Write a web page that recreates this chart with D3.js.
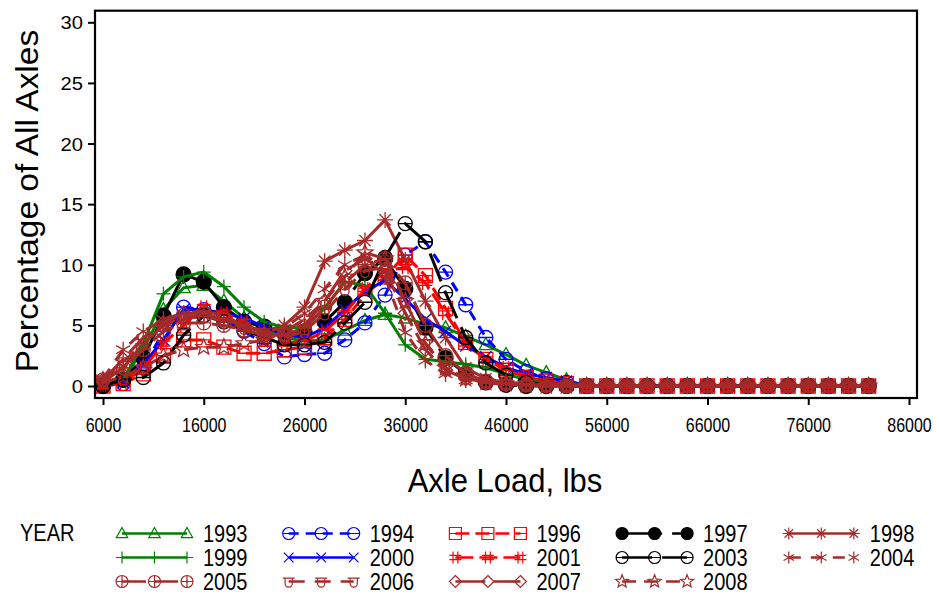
<!DOCTYPE html>
<html><head><meta charset="utf-8">
<script src="https://cdn.jsdelivr.net/npm/d3@7"></script>
<style>
html,body{margin:0;padding:0;background:#fff;}
svg{display:block;}
text{font-family:"Liberation Sans",Arial,Helvetica,sans-serif;fill:#000;}
</style></head>
<body>
<svg id="chart" width="940" height="598"></svg>
<script>
// ---------- DATA ----------
const axleLoads = [6000,8000,10000,12000,14000,16000,18000,20000,22000,24000,26000,28000,30000,32000,34000,36000,38000,40000,42000,44000,46000,48000,50000,52000,54000,56000,58000,60000,62000,64000,66000,68000,70000,72000,74000,76000,78000,80000,82000];
const xTicks = [6000,16000,26000,36000,46000,56000,66000,76000,86000];
const yTicks = [0,5,10,15,20,25,30];

const y1993 = [0.2,0.6,3.0,6.3,8.1,8.3,7.0,5.6,4.6,4.0,3.7,3.8,4.6,5.4,5.9,5.6,5.1,4.8,4.1,3.4,2.6,1.7,1.1,0.5,0,0,0,0,0,0,0,0,0,0,0,0,0,0,0];
const y1994 = [0.0,0.2,1.5,4.5,6.5,6.3,5.5,4.5,3.5,2.4,2.6,2.7,3.8,5.2,7.5,10.8,11.9,9.4,6.7,4.0,2.2,1.2,0.6,0.3,0,0,0,0,0,0,0,0,0,0,0,0,0,0,0];
const y1996 = [0.0,0.2,1.0,2.5,3.8,3.8,3.2,2.7,2.7,3.0,3.2,4.0,5.5,7.5,9.0,10.8,9.1,6.4,3.6,2.2,1.3,0.7,0.4,0.2,0,0,0,0,0,0,0,0,0,0,0,0,0,0,0];
const y1997 = [0.0,0.5,2.3,5.8,9.2,8.6,6.5,5.3,4.9,4.4,4.5,5.3,6.9,9.3,10.5,8.0,4.8,2.3,1.0,0.3,0.1,0.0,0.0,0.0,0,0,0,0,0,0,0,0,0,0,0,0,0,0,0];
const y1998 = [0.3,1.5,3.5,5.0,5.5,5.8,5.5,5.0,4.5,5.0,6.5,10.3,11.2,12.0,13.7,10.4,7.0,4.0,1.5,0.6,0.3,0.2,0.1,0.1,0,0,0,0,0,0,0,0,0,0,0,0,0,0,0];
const y1999 = [0.1,0.5,3.5,7.6,9.0,9.4,8.2,6.5,5.3,4.8,4.8,6.4,8.6,8.3,6.0,3.4,2.2,2.0,1.8,1.5,1.0,0.5,0.2,0.1,0,0,0,0,0,0,0,0,0,0,0,0,0,0,0];
const y2000 = [0.0,0.3,1.8,3.8,6.3,6.3,6.0,5.6,4.9,4.2,4.0,4.8,6.3,7.8,8.7,7.2,5.5,4.5,3.3,2.4,1.5,1.0,0.7,0.4,0,0,0,0,0,0,0,0,0,0,0,0,0,0,0];
const y2001 = [0.0,0.3,1.5,3.5,5.0,6.5,6.0,5.3,4.0,3.5,3.7,4.5,6.0,8.0,9.5,9.8,8.5,6.0,3.5,2.2,1.5,0.8,0.4,0.2,0,0,0,0,0,0,0,0,0,0,0,0,0,0,0];
const y2003 = [0.0,0.5,0.7,1.9,4.2,5.8,5.3,4.6,4.0,3.4,3.4,3.6,5.2,6.9,10.6,13.4,11.9,7.7,4.0,1.9,0.9,0.3,0.1,0.0,0,0,0,0,0,0,0,0,0,0,0,0,0,0,0];
const y2004 = [0.6,3.0,4.5,5.5,6.0,6.0,5.5,5.0,4.5,4.8,6.0,8.0,10.0,10.8,9.0,4.4,2.1,1.0,0.5,0.3,0.2,0.1,0.1,0.1,0,0,0,0,0,0,0,0,0,0,0,0,0,0,0];
const y2005 = [0.5,1.5,3.0,4.5,5.2,5.2,5.0,4.6,4.2,4.2,4.8,6.5,8.5,10.0,10.5,8.5,5.0,2.5,1.0,0.4,0.2,0.1,0.1,0.0,0,0,0,0,0,0,0,0,0,0,0,0,0,0,0];
const y2006 = [0.5,2.0,3.5,5.0,5.8,5.8,5.3,4.8,4.2,4.0,4.5,6.0,8.0,9.5,9.8,7.0,3.5,1.5,0.7,0.3,0.2,0.1,0.0,0.0,0,0,0,0,0,0,0,0,0,0,0,0,0,0,0];
const y2007 = [0.5,2.2,4.0,5.2,6.0,6.2,5.8,5.0,4.3,4.2,5.0,7.0,9.5,10.5,9.5,6.0,3.0,1.3,0.6,0.3,0.1,0.1,0.0,0.0,0,0,0,0,0,0,0,0,0,0,0,0,0,0,0];
const y2008 = [0.3,0.8,1.5,2.5,3.0,3.2,3.2,3.5,3.8,4.5,5.5,7.0,9.0,11.0,10.5,7.0,3.5,1.5,0.6,0.3,0.2,0.1,0.0,0.0,0,0,0,0,0,0,0,0,0,0,0,0,0,0,0];

const years = ["1993","1994","1996","1997","1998","1999","2000","2001","2003","2004","2005","2006","2007","2008"];
const seriesValues = {"1993":y1993,"1994":y1994,"1996":y1996,"1997":y1997,"1998":y1998,"1999":y1999,"2000":y2000,"2001":y2001,"2003":y2003,"2004":y2004,"2005":y2005,"2006":y2006,"2007":y2007,"2008":y2008};
const legendOrder = ["1993","1994","1996","1997","1998","1999","2000","2001","2003","2004","2005","2006","2007","2008"];

// ---------- STYLES ----------
const GREEN="#008000", BLUE="#0000FF", RED="#FF0000", BLACK="#000000", BROWN="#A52A2A";
const styles = {
  "1993":{c:GREEN,m:"triangle",d:null},
  "1999":{c:GREEN,m:"plus",d:null},
  "2005":{c:BROWN,m:"circleplus",d:"24,8"},
  "1994":{c:BLUE,m:"circleline",d:"10,7"},
  "2000":{c:BLUE,m:"x",d:null},
  "2006":{c:BROWN,m:"cup",d:"16,10"},
  "1996":{c:RED,m:"squareline",d:"14,6"},
  "2001":{c:RED,m:"hash",d:"18,6"},
  "2007":{c:BROWN,m:"diamond",d:"30,8"},
  "1997":{c:BLACK,m:"dot",d:"40,10"},
  "2003":{c:BLACK,m:"circleline",d:"30,10"},
  "2008":{c:BROWN,m:"star",d:"14,8"},
  "1998":{c:BROWN,m:"asterisk8",d:null},
  "2004":{c:BROWN,m:"asterisk6",d:"12,10"}
};

function circ(r){return `M${r},0A${r},${r} 0 1 1 ${-r},0A${r},${r} 0 1 1 ${r},0Z`;}
function markerPath(t,r){
  switch(t){
    case "triangle": return `M0,${-r}L${r*0.95},${r*0.7}L${-r*0.95},${r*0.7}Z`;
    case "plus": return `M${-r},0H${r}M0,${-r}V${r}`;
    case "circleplus": return circ(r)+`M${-r},0H${r}M0,${-r}V${r}`;
    case "circleline": return circ(r)+`M${-r},0H${r}`;
    case "x": return `M${-r*0.8},${-r*0.8}L${r*0.8},${r*0.8}M${r*0.8},${-r*0.8}L${-r*0.8},${r*0.8}`;
    case "cup": return `M${-r},${-r*0.55}H${r}M${-r*0.6},${-r*0.55}V${r*0.35}A${r*0.6},${r*0.6} 0 0 0 ${r*0.6},${r*0.35}V${-r*0.55}`;
    case "squareline": return `M${-r},${-r}H${r}V${r}H${-r}ZM${-r},0H${r}`;
    case "hash": return `M${-r*0.4},${-r}V${r}M${r*0.4},${-r}V${r}M${-r},${-r*0.35}H${r}M${-r},${r*0.35}H${r}`;
    case "diamond": return `M0,${-r}L${r},0L0,${r}L${-r},0Z`;
    case "dot": return circ(r);
    case "star": {
      let p=""; for(let i=0;i<10;i++){const a=-Math.PI/2+i*Math.PI/5; const rr=i%2?r*0.45:r*1.05; p+=(i?"L":"M")+(rr*Math.cos(a)).toFixed(2)+","+(rr*Math.sin(a)).toFixed(2);} return p+"Z";}
    case "asterisk8": {
      let p=""; for(let i=0;i<4;i++){const a=i*Math.PI/4; p+=`M${(r*Math.cos(a)).toFixed(2)},${(r*Math.sin(a)).toFixed(2)}L${(-r*Math.cos(a)).toFixed(2)},${(-r*Math.sin(a)).toFixed(2)}`;} return p;}
    case "asterisk6": {
      let p=""; for(let i=0;i<3;i++){const a=Math.PI/2+i*Math.PI/3; p+=`M${(r*Math.cos(a)).toFixed(2)},${(r*Math.sin(a)).toFixed(2)}L${(-r*Math.cos(a)).toFixed(2)},${(-r*Math.sin(a)).toFixed(2)}`;} return p;}
  }
}
function plotRadius(m){ return m==="dot"?7.5:(m==="star"||m==="asterisk8"||m==="asterisk6")?8:7; }

// ---------- LAYOUT ----------
const svg = d3.select("#chart");
const frame = {l:95, r:917, t:10.7, b:398};
const x = d3.scaleLinear().domain([6000,86000]).range([103,909]);
const y = d3.scaleLinear().domain([0,30]).range([386,22.3]);

// series
const line = d3.line().x((d,i)=>x(axleLoads[i])).y(d=>y(d));
const gS = svg.append("g");
years.forEach(yr=>{
  const st = styles[yr], vals = seriesValues[yr];
  gS.append("path").attr("d", line(vals)).attr("fill","none")
    .attr("stroke", st.c).attr("stroke-width", 3).attr("stroke-linejoin","round")
    .attr("stroke-dasharray", st.d);
  gS.selectAll(null).data(vals).enter().append("path")
    .attr("transform",(d,i)=>`translate(${x(axleLoads[i])},${y(d)})`)
    .attr("d", markerPath(st.m, plotRadius(st.m)))
    .attr("fill", st.m==="dot"? st.c : "none")
    .attr("stroke", st.c).attr("stroke-width", 1.3);
});

// frame
svg.append("rect").attr("x",frame.l).attr("y",frame.t).attr("width",frame.r-frame.l).attr("height",frame.b-frame.t)
  .attr("fill","none").attr("stroke","#000").attr("stroke-width",2.2);

// y axis
const yAxis = svg.append("g").attr("transform",`translate(${frame.l},0)`)
  .call(d3.axisLeft(y).tickValues(yTicks).tickSize(7).tickFormat(d3.format("d")));
yAxis.select(".domain").remove();
yAxis.selectAll(".tick line").attr("stroke","#000").attr("stroke-width",2);
yAxis.selectAll(".tick text").remove();
yAxis.selectAll(".tick").append("g").attr("transform","translate(-12,6.5) scale(1.12,1)")
  .append("text").attr("text-anchor","end").attr("font-size",18).text(d=>d);

// x axis
const xAxis = svg.append("g").attr("transform",`translate(0,${frame.b})`)
  .call(d3.axisBottom(x).tickValues(xTicks).tickSize(7).tickFormat(d3.format("d")));
xAxis.select(".domain").remove();
xAxis.selectAll(".tick line").attr("stroke","#000").attr("stroke-width",2);
xAxis.selectAll(".tick text").remove();
xAxis.selectAll(".tick").append("g").attr("transform","translate(0,34) scale(1,1.3)")
  .append("text").attr("text-anchor","middle").attr("font-size",16).text(d=>d);

// axis titles
svg.append("g").attr("transform","translate(38,201) rotate(-90) scale(1.08,1)")
  .append("text").attr("text-anchor","middle").attr("font-size",31).text("Percentage of All Axles");
svg.append("g").attr("transform","translate(505,492) scale(1,1.07)")
  .append("text").attr("text-anchor","middle").attr("font-size",31).text("Axle Load, lbs");

// legend
const leg = svg.append("g");
leg.append("g").attr("transform","translate(20,541) scale(1,1.15)")
  .append("text").attr("font-size",20).text("YEAR");
const rowY = [542,566,590];
legendOrder.forEach((yr,k)=>{
  const col = k%5, row = Math.floor(k/5);
  const st = styles[yr];
  const sx = 122 + col*166.7, cy = rowY[row]-8.5;
  leg.append("line").attr("x1",sx).attr("x2",sx+65).attr("y1",cy).attr("y2",cy)
    .attr("stroke",st.c).attr("stroke-width",2.6).attr("stroke-dasharray",st.d);
  [0,32.5,65].forEach(dx=>{
    leg.append("path").attr("transform",`translate(${sx+dx},${cy})`)
      .attr("d",markerPath(st.m, st.m==="star"?6.5:6))
      .attr("fill", st.m==="dot"? st.c:"none").attr("stroke",st.c).attr("stroke-width",1.2);
  });
  leg.append("g").attr("transform",`translate(${203+col*166.7},${rowY[row]}) scale(1,1.15)`)
    .append("text").attr("font-size",20).text(yr);
});
</script>
